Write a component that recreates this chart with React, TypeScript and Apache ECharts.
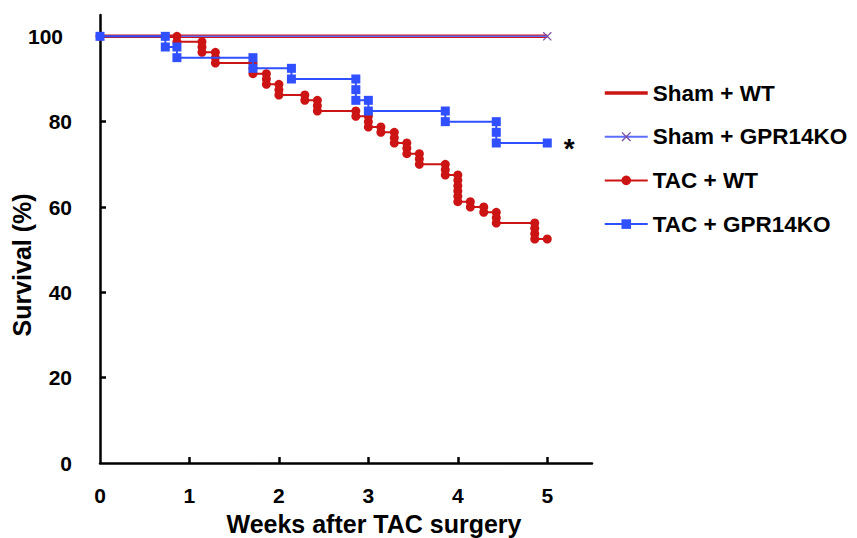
import React, { useEffect, useRef } from 'react';
import * as echarts from 'echarts';

const xTickLabels = [0, 1, 2, 3, 4, 5];
const xTickMarks = [1, 2, 3, 4, 5];
const yTickLabels = [0, 20, 40, 60, 80, 100];
const yTickMarks = [20, 40, 60, 80];
const seriesNames = ['Sham + WT', 'Sham + GPR14KO', 'TAC + WT', 'TAC + GPR14KO'];
const startSurvival = 100;
const followUpEnd = 5;

// each entry: [week of death, survival (%) after that death]
const shamWtDeaths: [number, number][] = [];
const shamKoDeaths: [number, number][] = [];
const tacWtDeaths: [number, number][] = [
  [0.86, 98.75],
  [1.14, 97.5], [1.14, 96.25],
  [1.29, 95], [1.29, 93.75],
  [1.71, 92.5], [1.71, 91.25],
  [1.86, 90], [1.86, 88.75],
  [2.0, 87.5], [2.0, 86.25],
  [2.29, 85],
  [2.43, 83.75], [2.43, 82.5],
  [2.86, 81.25],
  [3.0, 80], [3.0, 78.75],
  [3.14, 77.5],
  [3.29, 76.25], [3.29, 75],
  [3.43, 73.75], [3.43, 72.5],
  [3.57, 71.25], [3.57, 70],
  [3.86, 68.75], [3.86, 67.5],
  [4.0, 66.25], [4.0, 65], [4.0, 63.75], [4.0, 62.5], [4.0, 61.25],
  [4.14, 60],
  [4.29, 58.75],
  [4.43, 57.5], [4.43, 56.25],
  [4.86, 55], [4.86, 53.75], [4.86, 52.5],
];
const tacKoDeaths: [number, number][] = [
  [0.73, 97.5],
  [0.86, 95],
  [1.71, 92.5],
  [2.14, 90],
  [2.86, 87.5], [2.86, 85],
  [3.0, 82.5],
  [3.86, 80],
  [4.43, 77.5], [4.43, 75],
];
const significanceMark = '*';

function kmPoints(deaths: [number, number][]): number[][] {
  const pts: number[][] = [[0, startSurvival]];
  let prevT = 0;
  let prevS = startSurvival;
  for (const [t, s] of deaths) {
    if (t !== prevT) pts.push([t, prevS]);
    pts.push([t, s]);
    prevT = t;
    prevS = s;
  }
  pts.push([followUpEnd, prevS]);
  return pts;
}

const FONT = 'Arial, "Liberation Sans", sans-serif';
const RED = '#cc1414';
const BLUE = '#3050ff';
const LIGHT_BLUE = '#5c6eff';
const PURPLE = '#7a4ea6';
const X_SYMBOL = 'path://M0,1 L1,0 L5,4 L9,0 L10,1 L6,5 L10,9 L9,10 L5,6 L1,10 L0,9 L4,5 Z';

export default function App() {
  const ref = useRef<HTMLDivElement>(null);
  useEffect(() => {
    if (!ref.current) return;
    const chart = echarts.init(ref.current, undefined, { renderer: 'svg' });

    const shamWt = kmPoints(shamWtDeaths);
    const shamKo = kmPoints(shamKoDeaths).map((p, i, arr) =>
      i === arr.length - 1 ? { value: p } : { value: p, symbol: 'none' }
    );
    const tacWt = kmPoints(tacWtDeaths);
    const tacKoPts = kmPoints(tacKoDeaths);
    const tacKo = tacKoPts.map((p, i) =>
      i === tacKoPts.length - 1
        ? {
            value: p,
            label: {
              show: true,
              formatter: significanceMark,
              position: 'right',
              distance: 12,
              offset: [0, 5],
              fontSize: 28,
              fontWeight: 'bold',
              color: '#000',
              fontFamily: FONT,
            },
          }
        : { value: p }
    );

    const axisLineStyle = { color: '#000', width: 2.5 };
    const labelStyle = { fontSize: 21, fontWeight: 'bold', color: '#000', fontFamily: FONT };

    chart.setOption({
      animation: false,
      backgroundColor: '#fff',
      textStyle: { fontFamily: FONT },
      grid: { left: 100, right: 265, top: 15, bottom: 75, containLabel: false, outerBoundsMode: 'none' },
      xAxis: {
        type: 'value',
        min: 0,
        max: 5.5,
        axisLine: { show: true, onZero: false, lineStyle: axisLineStyle },
        axisTick: { show: true, inside: true, length: 6, customValues: xTickMarks, lineStyle: axisLineStyle },
        axisLabel: { ...labelStyle, margin: 22, customValues: xTickLabels },
        splitLine: { show: false },
      },
      yAxis: {
        type: 'value',
        min: 0,
        max: 105,
        axisLine: { show: true, lineStyle: axisLineStyle },
        axisTick: { show: true, inside: true, length: 6, customValues: yTickMarks, lineStyle: axisLineStyle },
        axisLabel: {
          ...labelStyle,
          margin: 28,
          customValues: yTickLabels,
          formatter: (v: number) => (v === 100 ? `{top|${v}}` : `${v}`),
          rich: { top: { ...labelStyle, padding: [0, 9, 0, 0] } },
        },
        splitLine: { show: false },
      },
      legend: {
        orient: 'vertical',
        left: 598,
        top: 76,
        itemWidth: 43,
        itemHeight: 12,
        itemGap: 19.7,
        textStyle: { fontSize: 22.5, fontWeight: 'bold', color: '#000', fontFamily: FONT, lineHeight: 24 },
        data: [
          { name: seriesNames[0], itemStyle: { opacity: 0 }, lineStyle: { width: 3.5 } },
          { name: seriesNames[1] },
          { name: seriesNames[2] },
          { name: seriesNames[3] },
        ],
      },
      graphic: [
        {
          type: 'text',
          x: 374,
          y: 524,
          style: {
            text: 'Weeks after TAC surgery',
            fontSize: 25,
            fontWeight: 'bold',
            fill: '#000',
            fontFamily: FONT,
            textAlign: 'center',
            textVerticalAlign: 'middle',
          },
        },
        {
          type: 'text',
          x: 22,
          y: 265,
          rotation: Math.PI / 2,
          style: {
            text: 'Survival (%)',
            fontSize: 25,
            fontWeight: 'bold',
            fill: '#000',
            fontFamily: FONT,
            textAlign: 'center',
            textVerticalAlign: 'middle',
          },
        },
      ],
      series: [
        {
          name: seriesNames[0],
          type: 'line',
          data: shamWt,
          symbol: 'none',
          lineStyle: { color: RED, width: 3.5 },
          itemStyle: { color: RED },
          z: 2,
        },
        {
          name: seriesNames[1],
          type: 'line',
          data: shamKo,
          symbol: X_SYMBOL,
          symbolSize: 9,
          lineStyle: { color: LIGHT_BLUE, width: 1.5 },
          itemStyle: { color: PURPLE },
          z: 3,
        },
        {
          name: seriesNames[2],
          type: 'line',
          data: tacWt,
          symbol: 'circle',
          symbolSize: 9,
          showAllSymbol: true,
          lineStyle: { color: RED, width: 2 },
          itemStyle: { color: RED },
          z: 4,
        },
        {
          name: seriesNames[3],
          type: 'line',
          data: tacKo,
          symbol: 'rect',
          symbolSize: 9,
          showAllSymbol: true,
          lineStyle: { color: BLUE, width: 2 },
          itemStyle: { color: BLUE },
          z: 5,
        },
      ],
    });
    return () => chart.dispose();
  }, []);

  return (
    <div
      ref={ref}
      style={{ position: 'fixed', left: 0, top: 0, width: 857, height: 538, background: '#fff' }}
    />
  );
}
